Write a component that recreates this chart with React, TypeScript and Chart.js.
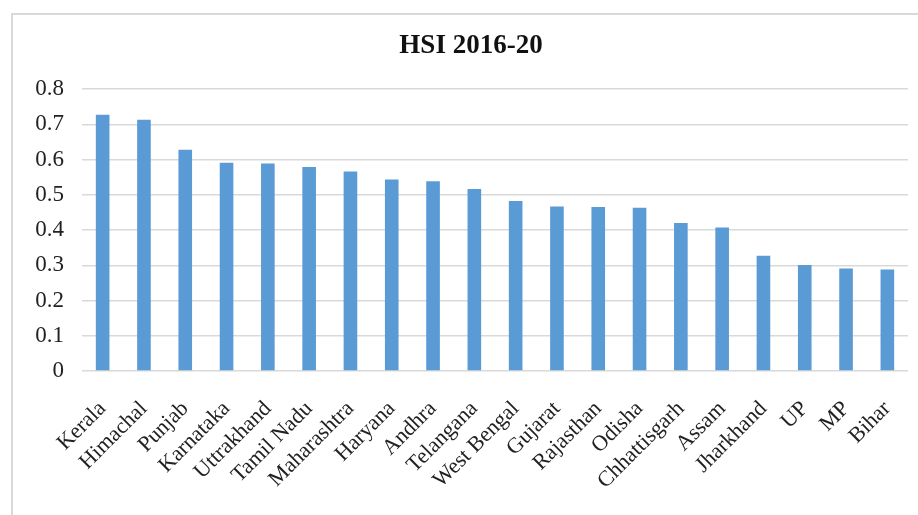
import React, { useEffect, useRef } from "react";
import { Chart, registerables } from "chart.js";

Chart.register(...registerables);

const states = [
  "Kerala", "Himachal", "Punjab", "Karnataka", "Uttrakhand", "Tamil Nadu",
  "Maharashtra", "Haryana", "Andhra", "Telangana", "West Bengal", "Gujarat",
  "Rajasthan", "Odisha", "Chhattisgarh", "Assam", "Jharkhand", "UP", "MP", "Bihar",
];
const hsiValues = [
  0.727, 0.713, 0.628, 0.591, 0.589, 0.579, 0.566, 0.543, 0.538, 0.516,
  0.482, 0.467, 0.465, 0.463, 0.42, 0.407, 0.327, 0.301, 0.291, 0.288,
];
const yTicks = [0, 0.1, 0.2, 0.3, 0.4, 0.5, 0.6, 0.7, 0.8];
const chartTitle = "HSI 2016-20";

const W = 918;
const H = 515;
const SERIF = "'Liberation Serif', 'Times New Roman', serif";

// Title is centred on the chart frame, which runs past the right edge of the page.
const titlePlugin = {
  id: "frameTitle",
  afterDraw(chart: any) {
    const ctx = chart.ctx;
    ctx.save();
    ctx.font = `bold 27px ${SERIF}`;
    ctx.fillStyle = "#111";
    ctx.textAlign = "center";
    ctx.textBaseline = "middle";
    ctx.fillText(chartTitle, 471, 46);
    ctx.restore();
  },
};

export default function App() {
  const ref = useRef<HTMLCanvasElement | null>(null);

  useEffect(() => {
    document.body.style.margin = "0";
    const canvas = ref.current;
    if (!canvas) return;
    const chart = new Chart(canvas, {
      type: "bar",
      data: {
        labels: states,
        datasets: [
          {
            data: hsiValues,
            backgroundColor: "#5b9bd5",
            categoryPercentage: 1,
            barPercentage: 0.33,
          },
        ],
      },
      options: {
        responsive: false,
        animation: false,
        devicePixelRatio: 1,
        layout: { padding: { left: 0, right: 10, top: 89, bottom: 0 } },
        plugins: {
          legend: { display: false },
          tooltip: { enabled: false },
          title: { display: false },
        },
        scales: {
          x: {
            grid: { display: false },
            border: { display: false },
            ticks: {
              autoSkip: false,
              minRotation: 45,
              maxRotation: 45,
              padding: 17,
              color: "#222",
              font: { family: SERIF, size: 22 },
            },
            afterFit: (scale: any) => {
              scale.height = H - 371;
              scale.paddingLeft = 0;
              scale.paddingRight = 0;
            },
          },
          y: {
            min: 0,
            max: 0.8,
            afterBuildTicks: (scale: any) => {
              scale.ticks = yTicks.map((v) => ({ value: v }));
            },
            grid: { color: "#d9d9d9", lineWidth: 1.5, drawTicks: false },
            border: { display: false },
            ticks: {
              padding: 18,
              color: "#222",
              font: { family: SERIF, size: 23 },
              callback: (v: any) => String(Number(v)),
            },
            afterFit: (scale: any) => {
              scale.width = 82;
            },
          },
        },
      },
      plugins: [titlePlugin],
    });
    return () => chart.destroy();
  }, []);

  return (
    <div style={{ position: "absolute", left: 0, top: 0, width: W, height: H, background: "#fff", overflow: "hidden" }}>
      <div
        style={{
          position: "absolute",
          left: 11,
          top: 13,
          width: W,
          height: H,
          borderLeft: "2px solid #d9d9d9",
          borderTop: "2px solid #d9d9d9",
        }}
      />
      <canvas ref={ref} width={W} height={H} style={{ position: "absolute", left: 0, top: 0, width: W, height: H }} />
    </div>
  );
}
